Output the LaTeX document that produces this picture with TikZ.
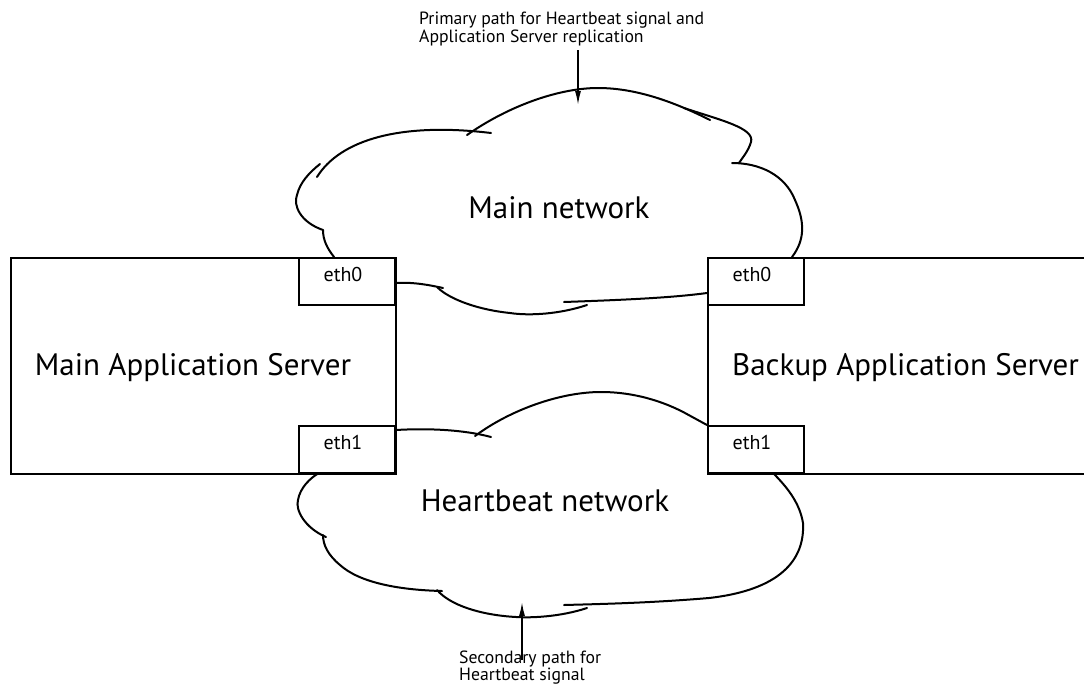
\documentclass[tikz,border=0pt]{standalone}
\usepackage{fontspec}
\setmainfont{PT Sans}
\usetikzlibrary{arrows.meta}
\begin{document}
\begin{tikzpicture}[x=1pt,y=-1pt,
  box/.style={draw,line width=2pt,inner sep=0pt,anchor=north west},
  cloudline/.style={line width=2pt,line cap=round},
  bigtxt/.style={font=\fontsize{31}{33}\selectfont,inner sep=0pt},
  ethtxt/.style={font=\fontsize{20}{22}\selectfont,inner sep=0pt},
  captxt/.style={font=\fontsize{17.7}{15.5}\selectfont,inner sep=0pt,align=left,anchor=north west},
  pointer/.style={line width=1.5pt,-{Latex[length=14pt,width=6pt]}}]
\useasboundingbox (0,0) rectangle (1084,686);
\clip (0,0) rectangle (1084,686);
% servers
\node[box,minimum width=385pt,minimum height=216pt] (main) at (10,257) {};
\node[box,minimum width=420pt,minimum height=216pt] (backup) at (707,257) {};
\node[bigtxt] (mainlbl) at (193,368) {Main Application Server};
\node[bigtxt,anchor=west] (backuplbl) at (732,368) {Backup Application Server};
% interfaces
\node[box,fill=white,minimum width=96pt,minimum height=47pt] (m0) at (298,257) {};
\node[box,fill=white,minimum width=96pt,minimum height=47pt] (m1) at (298,425) {};
\node[box,fill=white,minimum width=96pt,minimum height=47pt] (b0) at (707,257) {};
\node[box,fill=white,minimum width=96pt,minimum height=47pt] (b1) at (707,425) {};
\node[ethtxt] (m0l) at (343,274) {eth0};
\node[ethtxt] (m1l) at (343,442) {eth1};
\node[ethtxt] (b0l) at (752,274) {eth0};
\node[ethtxt] (b1l) at (752,442) {eth1};
% main network cloud
\draw[cloudline] (334,257) .. controls (327,248) and (323,240) .. (323,230);
\draw[cloudline] (323,230) .. controls (300,222) and (293,205) .. (297,195) .. controls (300,182) and (310,172) .. (320,164);
\draw[cloudline] (317,177) .. controls (340,140) and (400,122) .. (491,133);
\draw[cloudline] (467,135) .. controls (510,105) and (560,88) .. (598,88) .. controls (640,88) and (680,105) .. (710,120);
\draw[cloudline] (684,108) .. controls (720,120) and (755,128) .. (751,142) .. controls (748,152) and (742,158) .. (739,163);
\draw[cloudline] (732,163) .. controls (760,163) and (785,175) .. (795,200) .. controls (805,222) and (805,240) .. (792,257);
\draw[cloudline] (b0.west |- 0,293) .. controls (670,298) and (620,300) .. (564,302);
\draw[cloudline] (587,305) .. controls (560,314) and (530,316) .. (510,313) .. controls (480,310) and (450,300) .. (437,287);
\draw[cloudline] (443,288) .. controls (425,284) and (410,282) .. (m0.east |- 0,283);
\node[bigtxt] (mainnet) at (559,208) {Main network};
% heartbeat network cloud
\draw[cloudline] (m1.east |- 0,430) .. controls (430,428) and (465,430) .. (491,437);
\draw[cloudline] (475,436) .. controls (510,410) and (560,392) .. (601,392) .. controls (640,392) and (670,405) .. (685,413) -- (b1.north west);
\draw[cloudline] (773,473) .. controls (790,490) and (800,505) .. (803,523) .. controls (805,560) and (780,590) .. (709,598) .. controls (650,603) and (600,604) .. (564,605);
\draw[cloudline] (587,608) .. controls (560,617) and (530,618) .. (516,617) .. controls (480,615) and (450,605) .. (437,590);
\draw[cloudline] (442,591) .. controls (400,590) and (360,583) .. (340,565) .. controls (328,555) and (323,545) .. (323,535);
\draw[cloudline] (326,537) .. controls (305,528) and (295,510) .. (298,500) .. controls (300,488) and (310,478) .. (319,473);
\node[bigtxt] (hbnet) at (545,501) {Heartbeat network};
% captions and pointers
\node[captxt] (topcap) at (419,12) {Primary path for Heartbeat signal and\\Application Server replication};
\node[captxt] (botcap) at (459,651) {Secondary path for\\Heartbeat signal};
\coordinate (topstart) at (578,50);
\coordinate (toptip) at (578,105);
\coordinate (botstart) at (522,660);
\coordinate (bottip) at (522,602);
\draw[pointer] (topstart) -- (toptip);
\draw[pointer] (botstart) -- (bottip);
\end{tikzpicture}
\end{document}
